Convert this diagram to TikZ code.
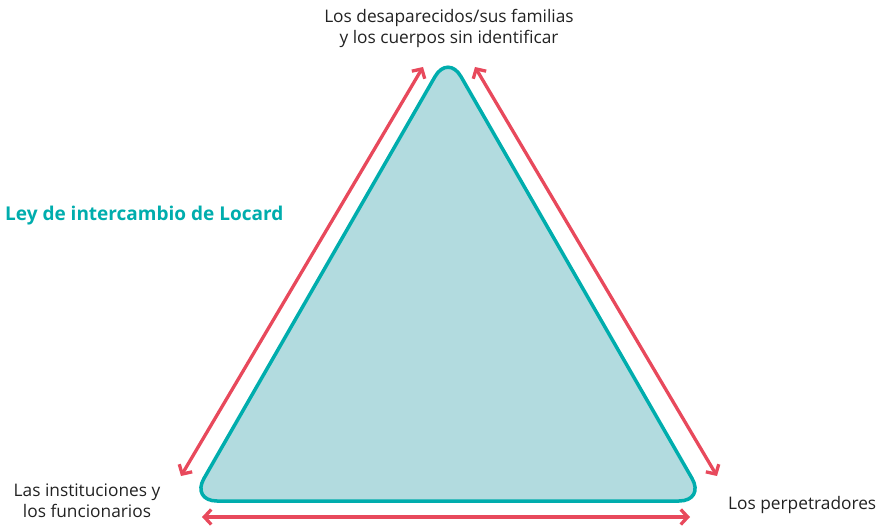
\documentclass[tikz,border=0pt]{standalone}
\usepackage{fontspec}
\setmainfont{Open Sans}
\usetikzlibrary{arrows.meta}
\definecolor{locardteal}{HTML}{00ADAD}
\definecolor{locardfill}{HTML}{B2DBDF}
\definecolor{exchangered}{HTML}{E8495C}
\definecolor{labelgray}{HTML}{222222}

\begin{document}
\begin{tikzpicture}[x=1pt,y=-1pt,font=\fontsize{17.3}{21}\selectfont]
    \tikzstyle{corner label}=[text=labelgray, align=center, inner sep=0pt]
    \tikzstyle{exchange}=[{Straight Barb[length=7pt,width=15pt]}-{Straight Barb[length=7pt,width=15pt]}, draw=exchangered, line width=3.3pt]
    \tikzstyle{triangle}=[draw=locardteal, fill=locardfill, line width=3.5pt, rounded corners=26pt, line join=round]

    \useasboundingbox (0,0) rectangle (881,526);

    % Triangle corners
    \coordinate (V-top) at (448,54);
    \coordinate (V-left) at (191,501);
    \coordinate (V-right) at (705,501);
    \path[triangle] (V-top) -- (V-right) -- (V-left) -- cycle;

    % Ends of the exchange arrows
    \coordinate (A-1) at (423,67);
    \coordinate (A-2) at (181,476);
    \coordinate (A-3) at (475,67);
    \coordinate (A-4) at (717,476);
    \coordinate (A-5) at (202,517);
    \coordinate (A-6) at (690,517);
    \path[exchange] (A-1) -- (A-2);
    \path[exchange] (A-3) -- (A-4);
    \path[exchange] (A-5) -- (A-6);

    % Labels
    \node[corner label] (victims) at (449,28) {Los desaparecidos/sus familias\\y los cuerpos sin identificar};
    \node[corner label] (institutions) at (87,501) {Las instituciones y\\los funcionarios};
    \node[corner label, anchor=west] (perpetrators) at (728,505) {Los perpetradores};
    \node[anchor=west, inner sep=0pt, text=locardteal, font=\fontsize{19}{22}\selectfont\bfseries] (locard) at (5,216) {Ley de intercambio de Locard};
\end{tikzpicture}
\end{document}
